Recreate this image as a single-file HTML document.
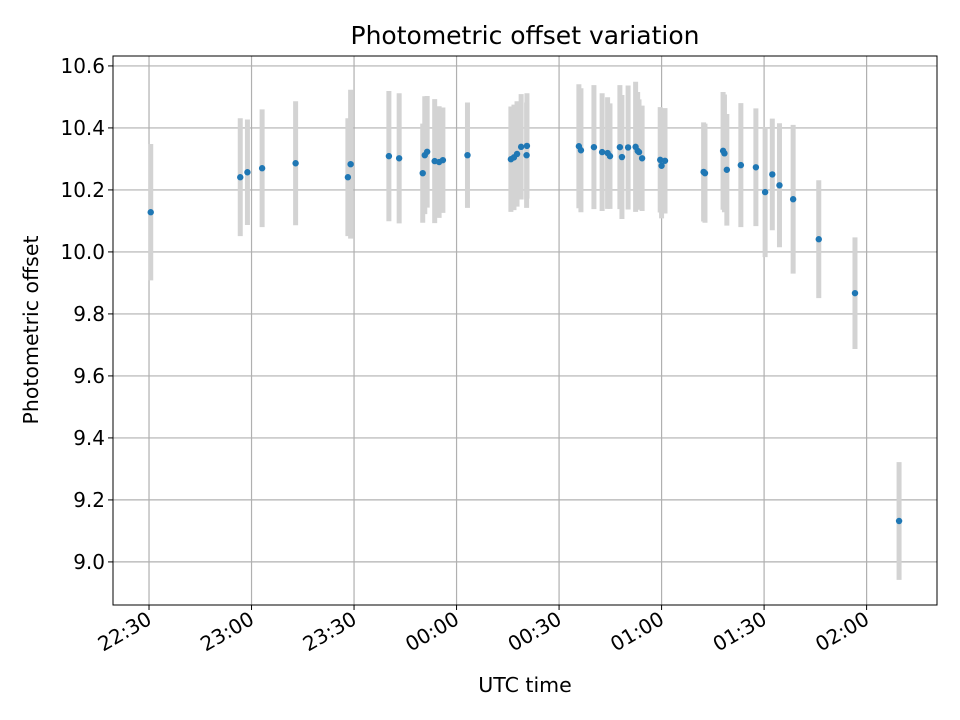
<!DOCTYPE html>
<html><head><meta charset="utf-8"><style>body{margin:0;background:#fff}svg{display:block;font-family:"DejaVu Sans","Liberation Sans",sans-serif}</style></head>
<body>
<svg id="chart" width="960" height="720" viewBox="0 0 960 720" xmlns="http://www.w3.org/2000/svg">
<text x="525" y="44" style="font-size:25px" text-anchor="middle">Photometric offset variation</text>
<text x="525" y="692" style="font-size:20.5px" text-anchor="middle">UTC time</text>
<text transform="translate(38,330) rotate(-90)" style="font-size:20.5px" text-anchor="middle">Photometric offset</text>
<g id="grid"></g><g id="bars"></g><g id="pts"></g><g id="axes"></g>
</svg>
<script>
// minutes after 22:00 UTC
const times=[30.5,56.7,58.8,63.1,72.9,88.2,89.0,100.2,103.2,110.1,110.7,111.4,113.6,114.9,116.0,123.2,135.9,136.8,137.7,138.9,140.6,140.5,155.8,156.4,160.2,162.6,164.2,164.9,167.8,168.4,170.2,172.4,173.0,173.4,174.3,179.6,180.0,181.0,192.3,192.7,198.0,198.4,199.1,203.2,207.6,210.3,212.4,214.5,218.5,226.0,236.6,249.5];
const offsets=[10.128,10.241,10.257,10.27,10.286,10.241,10.283,10.309,10.302,10.254,10.312,10.323,10.293,10.29,10.296,10.312,10.299,10.305,10.316,10.339,10.342,10.312,10.341,10.328,10.338,10.322,10.319,10.309,10.338,10.306,10.337,10.339,10.326,10.322,10.302,10.297,10.278,10.294,10.258,10.254,10.326,10.318,10.265,10.28,10.273,10.193,10.25,10.215,10.17,10.041,9.867,9.132];
const errors=[0.22,0.19,0.17,0.19,0.2,0.19,0.24,0.21,0.21,0.16,0.19,0.18,0.2,0.18,0.17,0.17,0.17,0.17,0.17,0.17,0.17,0.17,0.2,0.2,0.2,0.19,0.18,0.17,0.2,0.2,0.2,0.21,0.19,0.17,0.17,0.17,0.17,0.17,0.16,0.16,0.19,0.19,0.18,0.2,0.19,0.21,0.18,0.2,0.24,0.19,0.18,0.19];
const xTickMins=[30,60,90,120,150,180,210,240];
const xTickLabels=["22:30","23:00","23:30","00:00","00:30","01:00","01:30","02:00"];
const yTicks=[9.0,9.2,9.4,9.6,9.8,10.0,10.2,10.4,10.6];
const L=113,R=937,T=56,B=605;
const xMin=19.46,xMax=260.6,yMin=8.861,yMax=10.632;
const X=m=>L+(m-xMin)/(xMax-xMin)*(R-L);
const Y=v=>B-(v-yMin)/(yMax-yMin)*(B-T);
const NS="http://www.w3.org/2000/svg";
function mk(tag,attrs,parent){const e=document.createElementNS(NS,tag);for(const k in attrs)e.setAttribute(k,attrs[k]);document.getElementById(parent).appendChild(e);return e;}
xTickMins.forEach((m,i)=>{
 const g=mk('line',{x1:X(m),x2:X(m),y1:T,y2:B,stroke:'#b0b0b0','stroke-width':1.2},'grid');
 
 
 const t=mk('line',{x1:X(m),x2:X(m),y1:B,y2:B+5,stroke:'#000','stroke-width':1},'axes');
 
 
 const lb=mk('text',{x:X(m)+4,y:B+18,style:'font-size:20px','text-anchor':'end',transform:`rotate(-30 ${X(m)+4} ${B+18})`},'axes');
 lb.textContent=xTickLabels[i];
 
 
});
yTicks.forEach(v=>{
 const g=mk('line',{x1:L,x2:R,y1:Y(v),y2:Y(v),stroke:'#b0b0b0','stroke-width':1.2},'grid');
 
 
 const t=mk('line',{x1:L-5,x2:L,y1:Y(v),y2:Y(v),stroke:'#000','stroke-width':1},'axes');
 
 
 const lb=mk('text',{x:L-8,y:Y(v)+7,style:'font-size:20px','text-anchor':'end'},'axes');
 lb.textContent=v.toFixed(1);
 
 
});
times.forEach((m,i)=>{
 const b=mk('line',{x1:X(m),x2:X(m),y1:Y(offsets[i]+errors[i]),y2:Y(offsets[i]-errors[i]),stroke:'#d3d3d3','stroke-width':5},'bars');
 
 
});
times.forEach((m,i)=>{
 const c=mk('circle',{cx:X(m),cy:Y(offsets[i]),r:3.2,fill:'#1f77b4'},'pts');
 
 
});
const f=mk('rect',{x:L,y:T,width:R-L,height:B-T,fill:'none',stroke:'#000','stroke-width':1},'axes');


</script>
</body></html>
